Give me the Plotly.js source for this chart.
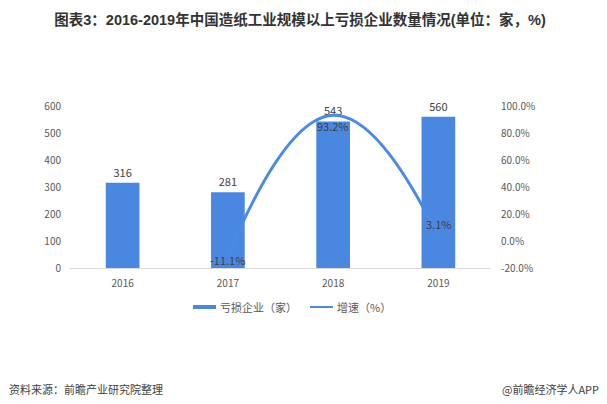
<!DOCTYPE html>
<html>
<head>
<meta charset="utf-8">
<script src="https://cdn.plot.ly/plotly-3.0.1.min.js"></script>
<style>html,body{margin:0;padding:0;background:#fff;}#chart{width:607px;height:404px;}</style>
</head>
<body>
<div id="chart"></div>
<script>
const years = ['2016', '2017', '2018', '2019'];
const lossCompanies = [316, 281, 543, 560];
const growthRate = [null, -11.1, 93.2, 3.1];
const leftTicks = [0, 100, 200, 300, 400, 500, 600];
const rightTicks = [-20, 0, 20, 40, 60, 80, 100];
const seriesNames = ['亏损企业（家）', '增速（%）'];

const font = '"Noto Sans CJK SC", "Noto Sans", sans-serif';
const titleFont = '"Liberation Sans", "Noto Sans CJK SC", sans-serif';
const W = 607, H = 404;
const L = 70, R = 116, T = 106, B = 136;
const pw = W - L - R, ph = H - T - B;
const px = x => (x - L) / pw;
const py = y => (H - B - y) / ph;
const barColor = '#4a87e0';
const lineColor = '#4a8ae6';

const bars = {
  type: 'bar', x: years, y: lossCompanies, name: seriesNames[0],
  marker: {color: barColor},
  text: lossCompanies.map(String), textposition: 'outside',
  textfont: {family: font, size: 11, color: '#404040'},
  cliponaxis: false, showlegend: false
};
const line = {
  type: 'scatter', mode: 'lines', x: years, y: growthRate, yaxis: 'y2',
  name: seriesNames[1],
  line: {color: lineColor, width: 3, shape: 'spline', smoothing: 1.3},
  cliponaxis: false, showlegend: false
};

const labelShift = [0, -4, -11, 13];
const lineLabels = years.map((yr, i) => growthRate[i] === null ? null : ({
  x: i, y: growthRate[i], xref: 'x', yref: 'y2', showarrow: false,
  text: growthRate[i].toFixed(1) + '%', yshift: labelShift[i],
  font: {family: font, size: 11, color: '#404040'}
})).filter(a => a);

const layout = {
  width: W, height: H,
  margin: {l: L, r: R, t: T, b: B},
  paper_bgcolor: '#fff', plot_bgcolor: 'rgba(0,0,0,0)',
  font: {family: font, color: '#595959', size: 10},
  title: {text: '<b>图表3：2016-2019年中国造纸工业规模以上亏损企业数量情况(单位：家，%)</b>',
    font: {family: titleFont, size: 14.5, color: '#333'}, x: 300 / W, xanchor: 'center', y: 1 - 20 / H, yanchor: 'middle', yref: 'container'},
  bargap: 0.68,
  showlegend: false,
  xaxis: {type: 'category', range: [-0.5, years.length - 0.5], autorange: false, showline: true, linecolor: '#d9d9d9', linewidth: 1, ticks: '', showgrid: false,
    ticklabelstandoff: 6, tickfont: {family: font, size: 10, color: '#595959'}},
  yaxis: {range: [0, 600], tickvals: leftTicks, showgrid: false, zeroline: false, showline: false, ticks: '',
    ticklabelstandoff: 8, tickfont: {family: font, size: 10, color: '#595959'}},
  yaxis2: {range: [-20, 100], overlaying: 'y', side: 'right', tickvals: rightTicks,
    ticktext: rightTicks.map(v => v.toFixed(1) + '%'), showgrid: false, zeroline: false, showline: false,
    ticklabelstandoff: 9, tickfont: {family: font, size: 10, color: '#595959'}},
  shapes: [
    {type: 'rect', xref: 'paper', yref: 'paper', x0: px(193), x1: px(216), y0: py(309), y1: py(305),
      fillcolor: barColor, line: {width: 0}},
    {type: 'line', xref: 'paper', yref: 'paper', x0: px(310), x1: px(333), y0: py(307), y1: py(307),
      line: {color: lineColor, width: 2}}
  ],
  annotations: lineLabels.concat([
    {xref: 'paper', yref: 'paper', x: px(218), y: py(307), xanchor: 'left', yanchor: 'middle', showarrow: false,
      text: seriesNames[0], font: {family: font, size: 11, color: '#595959'}},
    {xref: 'paper', yref: 'paper', x: px(335), y: py(307), xanchor: 'left', yanchor: 'middle', showarrow: false,
      text: seriesNames[1], font: {family: font, size: 11, color: '#595959'}},
    {xref: 'paper', yref: 'paper', x: px(7), y: py(389), xanchor: 'left', yanchor: 'middle', showarrow: false,
      text: '资料来源：前瞻产业研究院整理', font: {family: font, size: 11, color: '#404040'}},
    {xref: 'paper', yref: 'paper', x: px(601), y: py(389), xanchor: 'right', yanchor: 'middle', showarrow: false,
      text: '@前瞻经济学人APP', font: {family: font, size: 11, color: '#404040'}}
  ])
};

Plotly.newPlot('chart', [bars, line], layout, {displayModeBar: false, staticPlot: true});
</script>
</body>
</html>
